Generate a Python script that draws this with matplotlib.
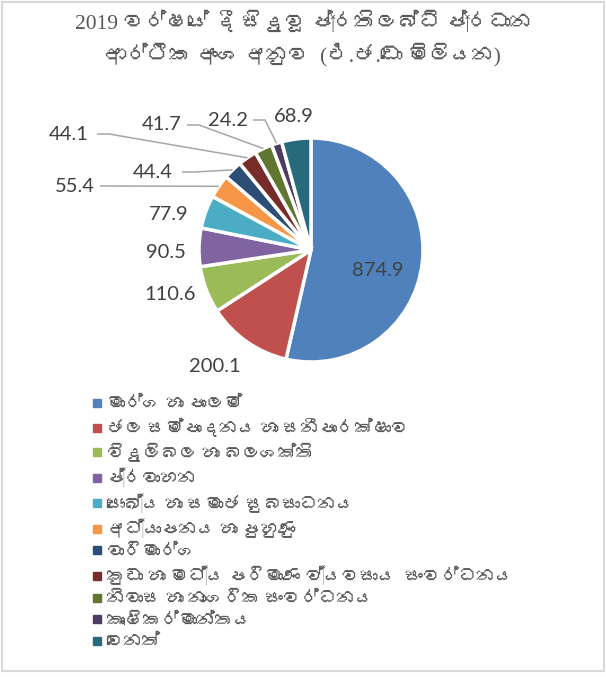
import matplotlib
matplotlib.use("Agg")
import matplotlib.pyplot as plt
import numpy as np
from matplotlib import font_manager
from matplotlib.ft2font import FT2Font
from matplotlib.lines import Line2D
from matplotlib.patches import Rectangle

# data
sectors = [
    "මාර්ග හා පාලම්",
    "ජල සම්පාදනය හා සනීපාරක්ෂාව",
    "විදුලිබල හා බලශක්ති",
    "ප්‍රවාහන",
    "සෞඛ්‍ය හා සමාජ සුබසාධනය",
    "අධ්‍යාපනය හා පුහුණු",
    "වාරිමාර්ග",
    "කුඩා හා මධ්‍ය පරිමාණ ව්‍යවසාය  සංවර්ධනය",
    "නිවාස හා නාගරික සංවර්ධනය",
    "කෘෂිකර්මාන්තය",
    "වෙනත්",
]
values = [874.9, 200.1, 110.6, 90.5, 77.9, 55.4, 44.4, 44.1, 41.7, 24.2, 68.9]
colors = ["#4F81BD", "#C0504D", "#9BBB59", "#8064A2", "#4BACC6", "#F79646",
          "#2C4D75", "#772C2A", "#5F7530", "#4D3B62", "#276A7C"]
title = "2019 වර්ෂයේ දී සිදුවූ ප්‍රතිලබ්ධි ප්‍රධාන\nආර්ථික අංශ අනුව  (එ.ජ.ඩො මිලියන)"


def find_family(ch):
    # look for any installed font that covers the given character
    seen = set()
    for f in font_manager.fontManager.ttflist:
        if f.fname in seen:
            continue
        seen.add(f.fname)
        try:
            if ord(ch) in FT2Font(f.fname).get_charmap():
                return f.name
        except Exception:
            pass
    return None


sinhala = find_family("ම")
sans = ["Lato", "DejaVu Sans"]
serif = ["Liberation Serif", "DejaVu Serif"]
if sinhala:
    sans = ["Lato", sinhala, "DejaVu Sans"]
    serif = ["Liberation Serif", sinhala, "DejaVu Serif"]
plt.rcParams["font.family"] = sans

W, H = 606, 677
CX, CY, R = 311, 250, 112
fig = plt.figure(figsize=(W / 100, H / 100), dpi=100)

# pie axes: radius 1 == R pixels
ax = fig.add_axes([(CX - 2 * R) / W, (H - CY - 2 * R) / H, 4 * R / W, 4 * R / H])

wedges, _ = ax.pie(values, colors=colors, startangle=90, counterclock=False,
                   radius=1, wedgeprops=dict(edgecolor="white", linewidth=2.5))
ax.set_xlim(-2, 2)
ax.set_ylim(-2, 2)
ax.set_aspect("equal")
ax.axis("off")


def px(x, y):
    return (x - CX) / R, (CY - y) / R


# label layout in pixels: (x, y, ha, leader start x or None)
layout = [
    (378, 271, "center", None),
    (215, 366, "center", None),
    (170, 295, "center", None),
    (166, 253, "center", None),
    (169, 215, "center", None),
    (95, 186, "right", 100),
    (173, 172, "right", 182),
    (89, 134, "right", 97),
    (182, 125, "right", 187),
    (248, 120, "right", 253),
    (294, 117, "center", None),
]

for w, v, (lx, ly, ha, sx) in zip(wedges, values, layout):
    tx, ty = px(lx, ly)
    ax.text(tx, ty, f"{v:.1f}", ha=ha, va="center", fontsize=14.5,
            color="#404040")
    if sx is not None:
        ang = np.deg2rad((w.theta1 + w.theta2) / 2)
        ex, ey = np.cos(ang) * 1.0, np.sin(ang) * 1.0
        x0, y0 = px(sx, ly)
        x1, y1 = px(sx + 12, ly)
        ax.plot([x0, x1, ex], [y0, y1, ey], color="#A6A6A6", lw=1.1,
                solid_capstyle="butt", clip_on=False)

fig.text(0.5, 1 - 39 / H, title, ha="center", va="center", fontsize=15.5,
         color="#595959", family=serif, linespacing=1.45)

handles = [Line2D([], [], marker="s", linestyle="none", markersize=5.5,
                  markerfacecolor=c, markeredgecolor=c) for c in colors]
fig.legend(handles, sectors, loc="upper left",
           bbox_to_anchor=(84 / W, 1 - 389 / H), frameon=False,
           fontsize=13, labelcolor="#595959", handlelength=0.6,
           handletextpad=0.25, labelspacing=0.31, borderaxespad=0)

# chart border
fig.patches.append(Rectangle((1.5 / W, 1 - 671 / H), 602 / W, 669 / H,
                             transform=fig.transFigure, fill=False,
                             edgecolor="#D9D9D9", linewidth=1.5))

fig.savefig("out.png", dpi=100)
